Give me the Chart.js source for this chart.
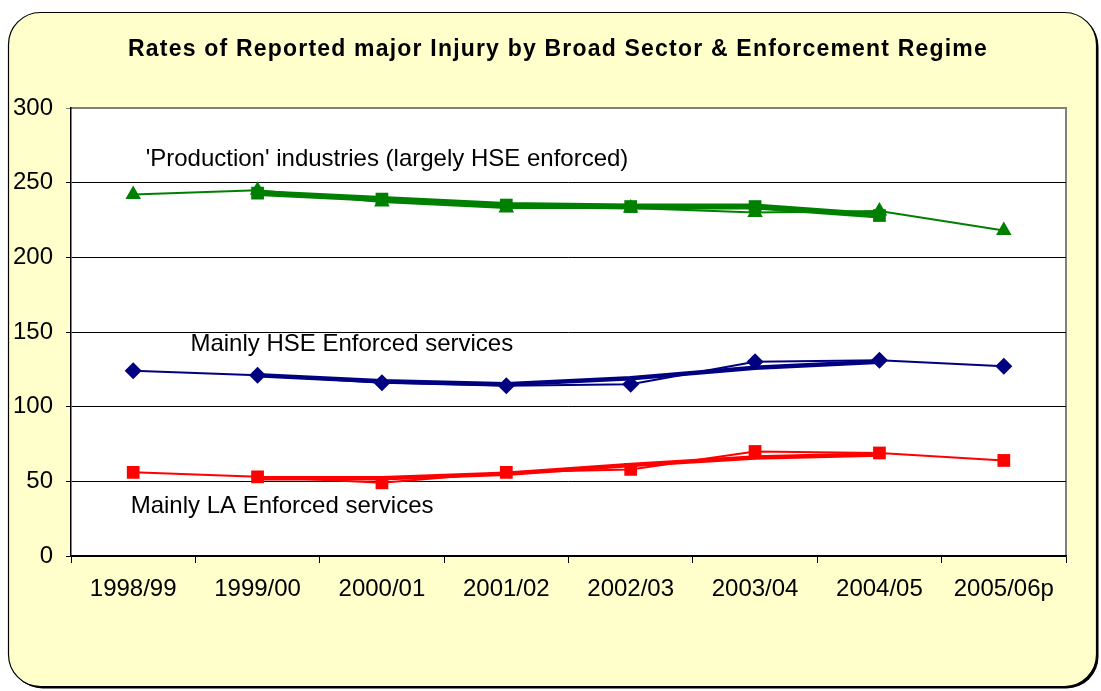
<!DOCTYPE html>
<html>
<head>
<meta charset="utf-8">
<script src="https://cdn.jsdelivr.net/npm/chart.js@4.4.0/dist/chart.umd.min.js"></script>
<style>
  html, body { margin: 0; padding: 0; background: #ffffff; }
  #wrap { width: 1101px; height: 691px; position: relative; }
</style>
</head>
<body>
<div id="wrap"><canvas id="c" width="1101" height="691"></canvas></div>
<script>
// ---- data ----
const categories = ['1998/99', '1999/00', '2000/01', '2001/02', '2002/03', '2003/04', '2004/05', '2005/06p'];
const production      = [242, 245, 237, 233, 233, 230, 231, 218];
const productionTrend = [null, 243, 239, 235, 234, 234, 228, null];
const hseServices      = [124, 121, 116, 114, 115, 130, 131, 127];
const hseServicesTrend = [null, 121, 117, 115, 119, 126, 130, null];
const laServices      = [56, 53, 49, 56, 58, 70, 69, 64];
const laServicesTrend = [null, 52, 52, 55, 61, 66, 68, null];
const yTicks = [0, 50, 100, 150, 200, 250, 300];
const titleText = 'Rates of Reported major Injury by Broad Sector & Enforcement Regime';
const seriesLabels = [
  { text: "'Production' industries (largely HSE enforced)", x: 0.10, y: 261 },
  { text: 'Mainly HSE Enforced services', x: 0.46, y: 137 },
  { text: 'Mainly LA Enforced services', x: -0.02, y: 29 }
];

const FONT = '"Liberation Sans", Arial, sans-serif';
const GREEN = '#008000', NAVY = '#000080', RED = '#FF0000';

function roundRect(ctx, x, y, w, h, r) {
  ctx.beginPath();
  ctx.moveTo(x + r, y);
  ctx.lineTo(x + w - r, y);
  ctx.arcTo(x + w, y, x + w, y + r, r);
  ctx.lineTo(x + w, y + h - r);
  ctx.arcTo(x + w, y + h, x + w - r, y + h, r);
  ctx.lineTo(x + r, y + h);
  ctx.arcTo(x, y + h, x, y + h - r, r);
  ctx.lineTo(x, y + r);
  ctx.arcTo(x, y, x + r, y, r);
  ctx.closePath();
}

const decor = {
  id: 'decor',
  beforeDraw(chart) {
    const ctx = chart.ctx;
    const a = chart.chartArea;
    ctx.save();
    // shadow
    roundRect(ctx, 10.5, 14.5, 1088, 674, 32);
    ctx.fillStyle = '#000';
    ctx.fill();
    // panel
    roundRect(ctx, 8.5, 12.5, 1088, 674, 32);
    ctx.fillStyle = '#FFFFCC';
    ctx.fill();
    ctx.lineWidth = 1.2;
    ctx.strokeStyle = '#000';
    ctx.stroke();
    // plot area
    ctx.fillStyle = '#FFFFFF';
    ctx.fillRect(a.left, a.top, a.right - a.left, a.bottom - a.top);
    ctx.strokeStyle = '#808080';
    ctx.lineWidth = 2;
    ctx.beginPath();
    ctx.moveTo(a.left, a.top);
    ctx.lineTo(a.right, a.top);
    ctx.lineTo(a.right, a.bottom);
    ctx.stroke();
    // title
    ctx.fillStyle = '#000';
    ctx.font = 'bold 23px ' + FONT;
    ctx.textAlign = 'center';
    ctx.textBaseline = 'alphabetic';
    try { ctx.letterSpacing = '1.2px'; } catch (e) {}
    ctx.fillText(titleText, 558, 56);
    ctx.restore();
  },
  afterDatasetsDraw(chart) {
    const ctx = chart.ctx;
    const xs = chart.scales.x, ys = chart.scales.y;
    ctx.save();
    ctx.fillStyle = '#000';
    ctx.font = '24px ' + FONT;
    ctx.textAlign = 'left';
    ctx.textBaseline = 'alphabetic';
    seriesLabels.forEach(l => {
      ctx.fillText(l.text, xs.getPixelForValue(l.x), ys.getPixelForValue(l.y));
    });
    ctx.restore();
  }
};

new Chart(document.getElementById('c'), {
  type: 'line',
  data: {
    labels: categories,
    datasets: [
      { data: productionTrend, borderColor: GREEN, backgroundColor: GREEN, borderWidth: 6,
        pointStyle: 'rect', pointRadius: 9, pointBorderWidth: 0, order: 1 },
      { data: production, borderColor: GREEN, backgroundColor: GREEN, borderWidth: 2,
        pointStyle: 'triangle', pointRadius: 9, pointBorderWidth: 0, order: 2 },
      { data: hseServicesTrend, borderColor: NAVY, backgroundColor: NAVY, borderWidth: 4.5,
        pointRadius: 0, order: 3 },
      { data: hseServices, borderColor: NAVY, backgroundColor: NAVY, borderWidth: 2,
        pointStyle: 'rectRot', pointRadius: 8.5, pointBorderWidth: 0, order: 4 },
      { data: laServicesTrend, borderColor: RED, backgroundColor: RED, borderWidth: 4.5,
        pointRadius: 0, order: 5 },
      { data: laServices, borderColor: RED, backgroundColor: RED, borderWidth: 2,
        pointStyle: 'rect', pointRadius: 9, pointBorderWidth: 0, order: 6 }
    ]
  },
  options: {
    responsive: false,
    animation: false,
    devicePixelRatio: 1,
    layout: { padding: { top: 108, right: 35, bottom: 35, left: 0 } },
    plugins: { legend: { display: false }, tooltip: { enabled: false }, title: { display: false } },
    elements: { line: { tension: 0 } },
    scales: {
      x: {
        type: 'category',
        offset: true,
        grid: { offset: true, drawOnChartArea: false, drawTicks: true, tickLength: 7, color: '#000', lineWidth: 1 },
        border: { color: '#000', width: 1.5 },
        ticks: { color: '#000', font: { family: FONT, size: 24 }, padding: 12, maxRotation: 0, autoSkip: false },
        afterFit(s) { s.height = 100; }
      },
      y: {
        min: 0, max: 300,
        afterBuildTicks(s) { s.ticks = yTicks.map(v => ({ value: v })); },
        grid: {
          color: ctx => (ctx.tick && ctx.tick.value === 300) ? '#808080' : '#000',
          lineWidth: 1, tickLength: 5
        },
        border: { color: '#000', width: 1.5 },
        ticks: { color: '#000', font: { family: FONT, size: 24 }, padding: 13 },
        afterFit(s) { s.width = 71; }
      }
    }
  },
  plugins: [decor]
});
</script>
</body>
</html>
